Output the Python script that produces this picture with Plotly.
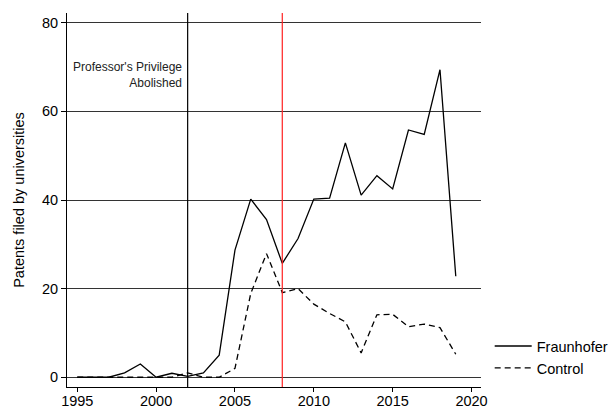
import plotly.graph_objects as go

years = list(range(1995, 2020))

fraunhofer = [0, 0, 0, 1.0, 3.0, 0, 0.9, 0.2, 1.0, 5.0,
              28.7, 40.2, 35.6, 25.7, 31.3, 40.2, 40.4, 52.9, 41.1, 45.5,
              42.5, 55.8, 54.8, 69.4, 22.8]

control = [0, 0, 0, 0, 0, 0, 0, 1.0, 0, 0,
           2.0, 18.9, 27.9, 19.1, 20.0, 16.5, 14.4, 12.5, 5.5, 14.1,
           14.2, 11.4, 12.0, 11.2, 5.2]

x_ticks = [1995, 2000, 2005, 2010, 2015, 2020]
y_ticks = [0, 20, 40, 60, 80]

reform_year = 2002
reference_year = 2008

font_family = "Liberation Sans, Arial, sans-serif"

fig = go.Figure()
fig.add_trace(go.Scatter(
    x=years, y=fraunhofer, mode="lines", name="Fraunhofer",
    line=dict(color="black", width=1.3),
))
fig.add_trace(go.Scatter(
    x=years, y=control, mode="lines", name="Control",
    line=dict(color="black", width=1.3, dash="6px,4px"),
))

fig.add_shape(type="line", xref="x", yref="paper", x0=reform_year, x1=reform_year,
              y0=0, y1=1, line=dict(color="black", width=1.2))
fig.add_shape(type="line", xref="x", yref="paper", x0=reference_year, x1=reference_year,
              y0=0, y1=1, line=dict(color="#ff2020", width=1.2))

fig.add_annotation(
    x=reform_year, y=68.3, xref="x", yref="y",
    text="Professor's Privilege<br>Abolished",
    showarrow=False, xanchor="right", align="right", xshift=-4,
    font=dict(family=font_family, size=12, color="#222"),
)

fig.update_layout(
    width=611, height=408,
    margin=dict(l=67, r=130, t=13, b=21, autoexpand=False),
    paper_bgcolor="white", plot_bgcolor="white",
    font=dict(family=font_family, size=14, color="black"),
    showlegend=True,
    legend=dict(
        x=1.021, y=0.08, xanchor="left", yanchor="middle",
        font=dict(size=14.5, color="black"),
        bgcolor="rgba(0,0,0,0)", tracegroupgap=0, itemwidth=37,
    ),
)

fig.update_xaxes(
    range=[1994.35, 2020.6],
    tickvals=x_ticks, ticks="outside", ticklen=4, tickcolor="black",
    showline=True, linecolor="black", linewidth=1,
    showgrid=False, zeroline=False,
    tickfont=dict(size=14.5),
    ticklabelstandoff=-3,
)
fig.update_yaxes(
    range=[-2.2, 82.2],
    tickvals=y_ticks, ticks="outside", ticklen=5, tickcolor="black",
    showline=True, linecolor="black", linewidth=1,
    showgrid=True, gridcolor="#333", gridwidth=1,
    zeroline=False,
    tickfont=dict(size=14.5),
    title=dict(text="Patents filed by universities", font=dict(size=14.5), standoff=13),
)

fig.write_html("out.html")
